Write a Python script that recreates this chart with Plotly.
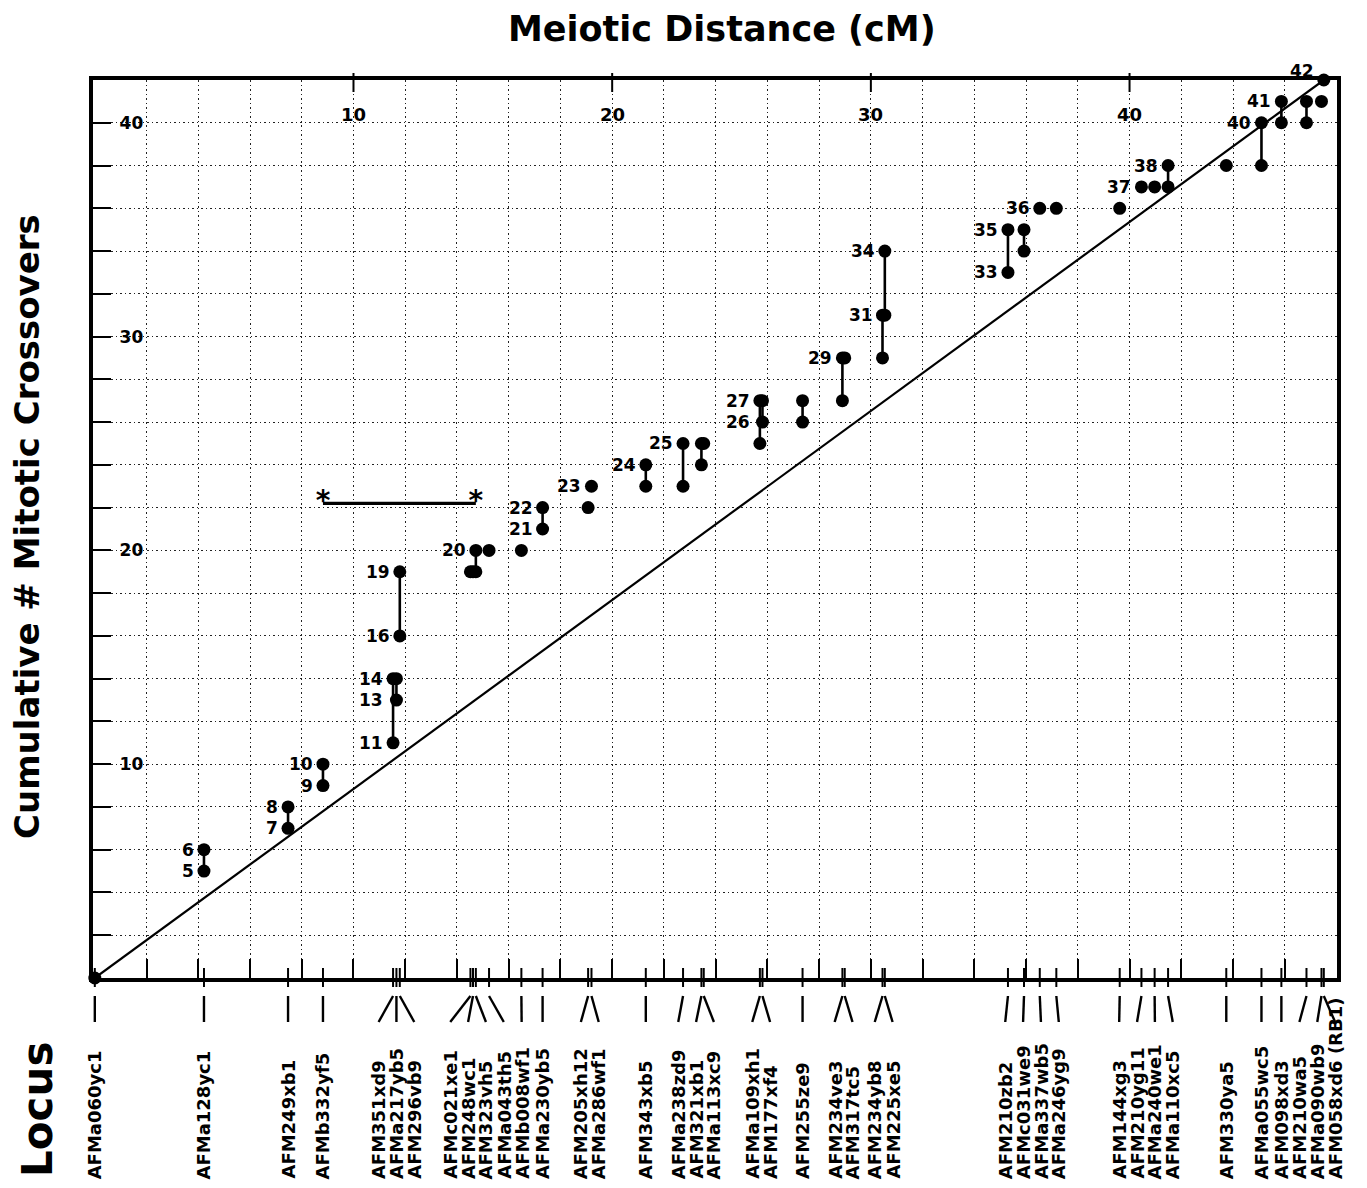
import plotly.graph_objects as go

# ---------------- data ----------------
loci = ["AFMa060yc1", "AFMa128yc1", "AFM249xb1", "AFMb332yf5", "AFM351xd9", "AFMa217yb5",
        "AFM296vb9", "AFMc021xe1", "AFM248wc1", "AFM323vh5", "AFMa043th5", "AFMb008wf1",
        "AFMa230yb5", "AFM205xh12", "AFMa286wf1", "AFM343xb5", "AFMa238zd9", "AFM321xb1",
        "AFMa113xc9", "AFMa109xh1", "AFM177xf4", "AFM255ze9", "AFM234ve3", "AFM317tc5",
        "AFM234yb8", "AFM225xe5", "AFM210zb2", "AFMc031we9", "AFMa337wb5", "AFMa246yg9",
        "AFM144xg3", "AFM210yg11", "AFMa240we1", "AFMa110xc5", "AFM330ya5", "AFMa055wc5",
        "AFM098xd3", "AFM210wa5", "AFMa090wb9", "AFM058xd6 (RB1)"]
meiotic_cm = [0.0, 4.22, 7.47, 8.82, 11.53, 11.66, 11.79, 14.52, 14.62, 14.73, 15.24, 16.49,
              17.31, 19.07, 19.20, 21.30, 22.74, 23.45, 23.54, 25.71, 25.81, 27.36, 28.90, 28.99,
              30.45, 30.54, 35.30, 35.92, 36.53, 37.17, 39.62, 40.46, 40.97, 41.49, 43.74, 45.10,
              45.87, 46.84, 47.42, 47.51]
mitotic_low = [0, 5, 7, 9, 11, 13, 16, 19, 19, 19, 20, 20, 21, 22, 23, 23, 23, 24, 25, 25,
               26, 26, 27, 29, 29, 31, 33, 34, 36, 36, 36, 37, 37, 37, 38, 38, 40, 40, 41, 42]
mitotic_high = [0, 6, 8, 10, 14, 14, 19, 19, 19, 20, 20, 20, 22, 22, 23, 24, 25, 25, 25, 27,
                27, 27, 29, 29, 31, 34, 35, 35, 36, 36, 36, 37, 37, 38, 38, 40, 41, 41, 41, 42]

point_labels = [5, 6, 7, 8, 9, 10, 11, 13, 14, 16, 19, 20, 21, 22, 23, 24, 25, 26, 27, 29,
                31, 33, 34, 35, 36, 37, 38, 40, 41, 42]
point_label_locus = ["AFMa128yc1", "AFMa128yc1", "AFM249xb1", "AFM249xb1", "AFMb332yf5",
                     "AFMb332yf5", "AFM351xd9", "AFM351xd9", "AFM351xd9", "AFM296vb9",
                     "AFM296vb9", "AFM323vh5", "AFMa230yb5", "AFMa230yb5", "AFMa286wf1",
                     "AFM343xb5", "AFMa238zd9", "AFMa109xh1", "AFMa109xh1", "AFM234ve3",
                     "AFM234yb8", "AFM210zb2", "AFM225xe5", "AFM210zb2", "AFMa337wb5",
                     "AFM210yg11", "AFMa110xc5", "AFMa055wc5", "AFM098xd3", "AFM058xd6 (RB1)"]

bracket_loci = ["AFMb332yf5", "AFM323vh5"]
bracket_level = 22.2

top_tick_values = [10, 20, 30, 40]
top_tick_labels = ["10", "20", "30", "40"]
y_tick_values = list(range(0, 43, 2))
y_tick_labels = [str(v) if v in (10, 20, 30, 40) else "" for v in y_tick_values]
x_grid_values = list(range(0, 48, 2))

# ---------------- layout constants ----------------
# page coordinates (the browser adds an 8px body margin around the figure)
OFF = 8
PAGE_W, PAGE_H = 1367, 1188
W, H = PAGE_W - 2 * OFF, PAGE_H - 2 * OFF
P_LEFT, P_RIGHT, P_TOP, P_BOTTOM = 93, 1337, 80, 978     # plot area on the page
ML = P_LEFT - OFF
MR = W - (P_RIGHT - OFF)
MT = P_TOP - OFF
MB = H - (P_BOTTOM - OFF)
PLOT_W = P_RIGHT - P_LEFT
PLOT_H = P_BOTTOM - P_TOP
X_RANGE = [-0.07, 48.02]
Y_RANGE = [0, 42]
FONT = "DejaVu Sans"


def py(p):
    """page pixel row -> paper y"""
    return (P_BOTTOM - p) / PLOT_H


def px(p):
    """page pixel column -> paper x"""
    return (p - P_LEFT) / PLOT_W


def spread_labels(targets, d, upper):
    """least-squares 1-D label placement with minimum spacing d (PAVA)."""
    q = [t - i * d for i, t in enumerate(targets)]
    blocks = []
    for v in q:
        blocks.append([v, 1])
        while len(blocks) > 1 and blocks[-2][0] / blocks[-2][1] > blocks[-1][0] / blocks[-1][1]:
            s, c = blocks.pop()
            blocks[-1][0] += s
            blocks[-1][1] += c
    out = []
    for s, c in blocks:
        out += [s / c] * c
    ub = upper - (len(targets) - 1) * d
    out = [min(v, ub) for v in out]
    return [v + i * d for i, v in enumerate(out)]


pos = dict(zip(loci, meiotic_cm))
label_x = spread_labels(meiotic_cm, 0.69, 48.06)

fig = go.Figure()

# diagonal (expected) line
fig.add_trace(go.Scatter(x=[meiotic_cm[0], meiotic_cm[-1]], y=[mitotic_low[0], mitotic_high[-1]],
                         mode="lines", line=dict(color="black", width=2.2),
                         hoverinfo="skip", showlegend=False))

# range bars
bx, by = [], []
for x, lo, hi in zip(meiotic_cm, mitotic_low, mitotic_high):
    if hi > lo:
        bx += [x, x, None]
        by += [lo, hi, None]
fig.add_trace(go.Scatter(x=bx, y=by, mode="lines", line=dict(color="black", width=2.6),
                         hoverinfo="skip", showlegend=False))

# bracket bar with asterisks
fig.add_trace(go.Scatter(x=[pos[bracket_loci[0]], pos[bracket_loci[1]]],
                         y=[bracket_level, bracket_level], mode="lines+text",
                         line=dict(color="black", width=3.4),
                         text=["*", "*"], textposition="middle center",
                         textfont=dict(size=28, family=FONT, color="black", weight="bold"),
                         hoverinfo="skip", showlegend=False, cliponaxis=False))

# points
mx, my = [], []
for x, lo, hi in zip(meiotic_cm, mitotic_low, mitotic_high):
    mx.append(x)
    my.append(lo)
    if hi > lo:
        mx.append(x)
        my.append(hi)
fig.add_trace(go.Scatter(x=mx, y=my, mode="markers",
                         marker=dict(color="black", size=13, line=dict(width=0)),
                         cliponaxis=False, showlegend=False))

annotations = []
# point number labels
top_val = max(point_labels)
for v, loc in zip(point_labels, point_label_locus):
    annotations.append(dict(x=pos[loc], y=v, xref="x", yref="y", text=str(v), showarrow=False,
                            xanchor="right", yanchor="middle",
                            xshift=-8, yshift=9 if v == top_val else 0,
                            font=dict(size=17, family=FONT, color="black", weight="bold")))

# top (meiotic distance) tick labels, drawn just inside the top axis
for v, t in zip(top_tick_values, top_tick_labels):
    annotations.append(dict(x=v, y=py(115), xref="x", yref="paper", text=t, showarrow=False,
                            xanchor="center", yanchor="middle",
                            font=dict(size=18, family=FONT, color="black", weight="bold")))

# locus labels
for name, lx in zip(loci, label_x):
    annotations.append(dict(x=lx, y=py(1181), xref="x", yref="paper", text=name,
                            showarrow=False, textangle=-90, xanchor="center", yanchor="bottom",
                            font=dict(size=18, family=FONT, color="black", weight="bold")))

# titles
annotations.append(dict(x=px(722), y=py(OFF), xref="paper", yref="paper",
                        text="Meiotic Distance (cM)", showarrow=False,
                        xanchor="center", yanchor="top", borderpad=0,
                        font=dict(size=35, family=FONT, color="black", weight="bold")))
annotations.append(dict(x=px(27), y=py(527), xref="paper", yref="paper",
                        text="Cumulative # Mitotic Crossovers", showarrow=False, textangle=-90,
                        xanchor="center", yanchor="middle",
                        font=dict(size=34, family=FONT, color="black", weight="bold")))
annotations.append(dict(x=px(37), y=py(1110), xref="paper", yref="paper",
                        text="Locus", showarrow=False, textangle=-90,
                        xanchor="center", yanchor="middle",
                        font=dict(size=42, family=FONT, color="black", weight="bold")))

shapes = []
# locus ticks crossing the bottom axis, and connectors to the labels
for x, lx in zip(meiotic_cm, label_x):
    shapes.append(dict(type="line", xref="x", yref="paper", x0=x, x1=x,
                       y0=py(968), y1=py(987), line=dict(color="black", width=2)))
    shapes.append(dict(type="line", xref="x", yref="paper", x0=x, x1=lx,
                       y0=py(996), y1=py(1022), line=dict(color="black", width=2.4)))
# top axis ticks (crossing)
for v in top_tick_values:
    shapes.append(dict(type="line", xref="x", yref="paper", x0=v, x1=v,
                       y0=py(73), y1=py(92), line=dict(color="black", width=2)))

grid_dash = "1.5px,3px"
fig.update_layout(
    width=W, height=H,
    margin=dict(l=ML, r=MR, t=MT, b=MB),
    paper_bgcolor="white", plot_bgcolor="white",
    font=dict(family=FONT, color="black", weight="bold"),
    showlegend=False,
    annotations=annotations,
    shapes=shapes,
    xaxis=dict(range=X_RANGE, tickmode="array", tickvals=x_grid_values,
               showticklabels=False, ticks="inside", ticklen=19, tickwidth=1.6,
               tickcolor="black", showgrid=True, gridcolor="#222", gridwidth=1.1,
               griddash=grid_dash, zeroline=False, showline=True, linewidth=4,
               linecolor="black", mirror=True),
    yaxis=dict(range=Y_RANGE, tickmode="array", tickvals=y_tick_values, ticktext=y_tick_labels,
               ticks="inside", ticklen=18, tickwidth=2, tickcolor="black",
               ticklabelposition="inside", ticklabelstandoff=9,
               tickfont=dict(size=17, family=FONT, color="black", weight="bold"),
               showgrid=True, gridcolor="#222", gridwidth=1.1, griddash=grid_dash,
               zeroline=False, showline=True, linewidth=4, linecolor="black", mirror=True),
)

fig.write_html("out.html")
